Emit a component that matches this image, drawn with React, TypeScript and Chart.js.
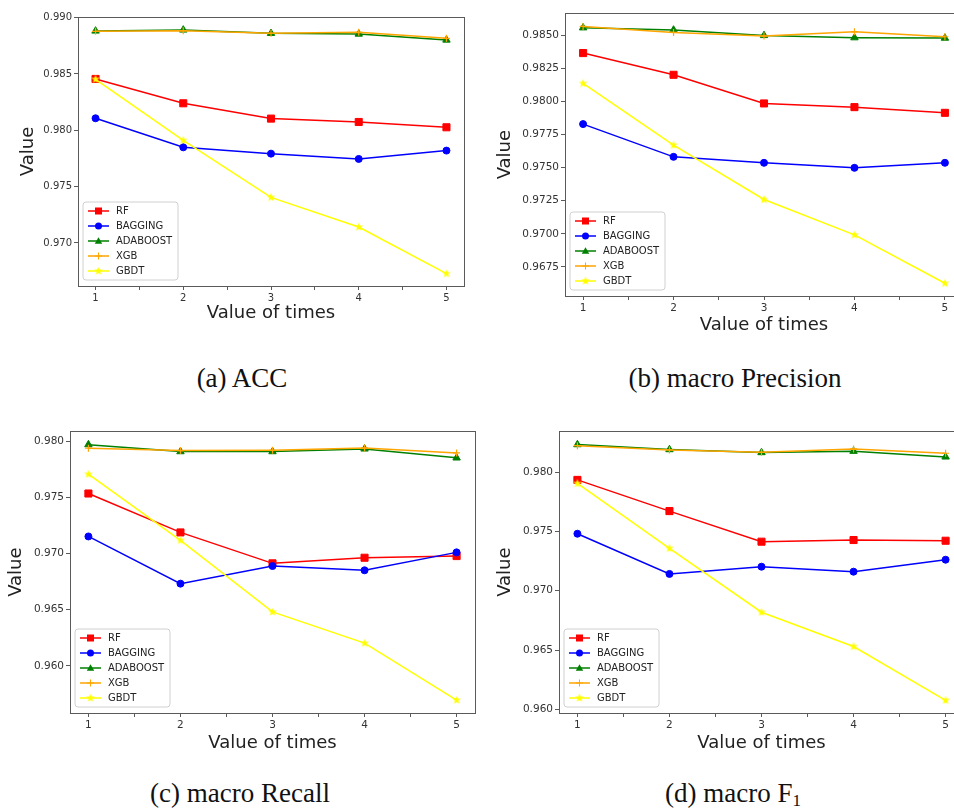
import React, { useEffect, useRef } from "react";
import { Chart, registerables } from "chart.js";

Chart.register(...registerables);

const times = [1, 2, 3, 4, 5];
const xTicks = [1, 1.5, 2, 2.5, 3, 3.5, 4, 4.5, 5];
const seriesNames = ["RF", "BAGGING", "ADABOOST", "XGB", "GBDT"];

// (a) ACC
const accRF = [0.98456, 0.9824, 0.98104, 0.98074, 0.98027];
const accBAGGING = [0.98107, 0.97849, 0.97793, 0.97746, 0.9782];
const accADABOOST = [0.98882, 0.98891, 0.98861, 0.98855, 0.98802];
const accXGB = [0.98879, 0.98885, 0.98861, 0.9887, 0.98817];
const accGBDT = [0.98453, 0.97911, 0.97405, 0.97142, 0.96728];
const accYTicks = [0.97, 0.975, 0.98, 0.985, 0.99];

// (b) macro Precision
const preRF = [0.98364, 0.982, 0.97984, 0.97956, 0.97913];
const preBAGGING = [0.97828, 0.97581, 0.97536, 0.97498, 0.97536];
const preADABOOST = [0.98555, 0.98538, 0.98497, 0.9848, 0.98477];
const preXGB = [0.98565, 0.9852, 0.98492, 0.98525, 0.98487];
const preGBDT = [0.98135, 0.97669, 0.97259, 0.96992, 0.96627];
const preYTicks = [0.9675, 0.97, 0.9725, 0.975, 0.9775, 0.98, 0.9825, 0.985];

// (c) macro Recall
const recRF = [0.97537, 0.9719, 0.96914, 0.96964, 0.96979];
const recBAGGING = [0.97154, 0.96733, 0.9689, 0.96852, 0.97012];
const recADABOOST = [0.97973, 0.97911, 0.97911, 0.97935, 0.97855];
const recXGB = [0.97941, 0.9792, 0.97923, 0.97944, 0.97899];
const recGBDT = [0.97709, 0.97119, 0.96481, 0.96202, 0.95694];
const recYTicks = [0.96, 0.965, 0.97, 0.975, 0.98];

// (d) macro F1
const f1RF = [0.97935, 0.97672, 0.97414, 0.97428, 0.97422];
const f1BAGGING = [0.97481, 0.97142, 0.97203, 0.97161, 0.97262];
const f1ADABOOST = [0.98233, 0.98191, 0.98166, 0.98177, 0.98129];
const f1XGB = [0.98224, 0.98188, 0.98168, 0.98196, 0.9816];
const f1GBDT = [0.97905, 0.97358, 0.96819, 0.9653, 0.96076];
const f1YTicks = [0.96, 0.965, 0.97, 0.975, 0.98];

const colors = ["#ff0000", "#0000ff", "#008000", "#ffa500", "#ffff00"];
const SPINE = "#5a5a5a";
const FONT = "'DejaVu Sans', sans-serif";

function makeStar(color: string) {
  const c = document.createElement("canvas");
  c.width = 10;
  c.height = 10;
  const ctx = c.getContext("2d")!;
  ctx.fillStyle = color;
  ctx.beginPath();
  for (let i = 0; i < 10; i++) {
    const r = i % 2 === 0 ? 4.6 : 1.9;
    const a = -Math.PI / 2 + (i * Math.PI) / 5;
    const x = 5 + r * Math.cos(a);
    const y = 5 + r * Math.sin(a);
    if (i === 0) ctx.moveTo(x, y);
    else ctx.lineTo(x, y);
  }
  ctx.closePath();
  ctx.fill();
  return c;
}

function drawMarker(ctx: CanvasRenderingContext2D, kind: number, x: number, y: number, color: string, star: HTMLCanvasElement) {
  ctx.save();
  ctx.fillStyle = color;
  ctx.strokeStyle = color;
  ctx.lineWidth = 1;
  ctx.beginPath();
  if (kind === 0) {
    ctx.fillRect(x - 3.5, y - 3.5, 7, 7);
  } else if (kind === 1) {
    ctx.arc(x, y, 3.5, 0, Math.PI * 2);
    ctx.fill();
  } else if (kind === 2) {
    const r = 4.3;
    for (let i = 0; i < 3; i++) {
      const a = -Math.PI / 2 + (i * 2 * Math.PI) / 3;
      const px = x + r * Math.cos(a);
      const py = y + 0.6 + r * Math.sin(a);
      if (i === 0) ctx.moveTo(px, py);
      else ctx.lineTo(px, py);
    }
    ctx.closePath();
    ctx.fill();
  } else if (kind === 3) {
    ctx.moveTo(x - 3.5, y);
    ctx.lineTo(x + 3.5, y);
    ctx.moveTo(x, y - 3.5);
    ctx.lineTo(x, y + 3.5);
    ctx.stroke();
  } else {
    ctx.drawImage(star, x - 5, y - 5);
  }
  ctx.restore();
}

type PanelProps = {
  series: number[][];
  yTicks: number[];
  yMin: number;
  yMax: number;
  decimals: number;
  left: number;
  top: number;
  width: number;
  height: number;
  yW: number;
  xH: number;
  tickSize: number;
};

function Panel(p: PanelProps) {
  const ref = useRef<HTMLCanvasElement>(null);
  useEffect(() => {
    const star = makeStar(colors[4]);
    const pointStyles: any[] = ["rect", "circle", "triangle", "cross", star];
    const radii = [5, 3.5, 4.3, 3.5, 5];
    const frameLegend = {
      id: "frameLegend",
      afterDraw(chart: any) {
        const ctx = chart.ctx as CanvasRenderingContext2D;
        const a = chart.chartArea;
        ctx.save();
        ctx.strokeStyle = SPINE;
        ctx.lineWidth = 1;
        ctx.strokeRect(Math.round(a.left) + 0.5, Math.round(a.top) + 0.5, Math.round(a.right - a.left), Math.round(a.bottom - a.top));
        // legend
        const bx = a.left + 5;
        const bh = 78;
        const bw = 95;
        const by = a.bottom - 6 - bh;
        ctx.fillStyle = "rgba(255,255,255,0.85)";
        ctx.strokeStyle = "#d0d0d0";
        ctx.beginPath();
        const r = 3;
        ctx.moveTo(bx + r, by);
        ctx.lineTo(bx + bw - r, by);
        ctx.arcTo(bx + bw, by, bx + bw, by + r, r);
        ctx.lineTo(bx + bw, by + bh - r);
        ctx.arcTo(bx + bw, by + bh, bx + bw - r, by + bh, r);
        ctx.lineTo(bx + r, by + bh);
        ctx.arcTo(bx, by + bh, bx, by + bh - r, r);
        ctx.lineTo(bx, by + r);
        ctx.arcTo(bx, by, bx + r, by, r);
        ctx.closePath();
        ctx.fill();
        ctx.stroke();
        ctx.font = `10px ${FONT}`;
        ctx.textBaseline = "middle";
        for (let i = 0; i < seriesNames.length; i++) {
          const cy = by + 9 + i * 15;
          ctx.strokeStyle = colors[i];
          ctx.lineWidth = 1.5;
          ctx.beginPath();
          ctx.moveTo(bx + 5, cy);
          ctx.lineTo(bx + 26, cy);
          ctx.stroke();
          drawMarker(ctx, i, bx + 15.5, cy, colors[i], star);
          ctx.fillStyle = "#222";
          ctx.fillText(seriesNames[i], bx + 33, cy + 0.5);
        }
        ctx.restore();
      },
    };
    const chart = new Chart(ref.current!, {
      type: "line",
      data: {
        datasets: p.series.map((vals, i) => ({
          label: seriesNames[i],
          data: times.map((t, j) => ({ x: t, y: vals[j] })),
          borderColor: colors[i],
          backgroundColor: colors[i],
          borderWidth: 1.5,
          pointStyle: pointStyles[i],
          pointRadius: radii[i],
          pointBorderWidth: i === 3 ? 1.2 : 1,
          pointBorderColor: colors[i],
          pointBackgroundColor: colors[i],
          tension: 0,
          fill: false,
          order: 4 - i,
        })),
      },
      options: {
        animation: false,
        responsive: false,
        devicePixelRatio: 1,
        layout: { padding: { top: 8, right: 8, left: 0, bottom: 0 } },
        plugins: { legend: { display: false }, tooltip: { enabled: false } },
        scales: {
          x: {
            type: "linear",
            min: 0.8,
            max: 5.2,
            afterBuildTicks: (s: any) => {
              s.ticks = xTicks.map((v) => ({ value: v }));
            },
            afterFit: (s: any) => {
              s.height = p.xH;
            },
            ticks: {
              autoSkip: false,
              maxRotation: 0,
              padding: 2,
              color: "#333",
              font: { family: FONT, size: p.tickSize },
              callback: (v: any) => (Number.isInteger(v) ? String(v) : ""),
            },
            grid: { drawOnChartArea: false, drawTicks: true, tickLength: 4, color: SPINE },
            border: { display: true, color: SPINE, width: 1 },
            title: { display: true, text: "Value of times", color: "#222", padding: 0, font: { family: FONT, size: 18 } },
          },
          y: {
            type: "linear",
            min: p.yMin,
            max: p.yMax,
            afterBuildTicks: (s: any) => {
              s.ticks = p.yTicks.map((v) => ({ value: v }));
            },
            afterFit: (s: any) => {
              s.width = p.yW;
            },
            ticks: {
              autoSkip: false,
              padding: 2,
              color: "#333",
              font: { family: FONT, size: p.tickSize },
              callback: (v: any) => Number(v).toFixed(p.decimals),
            },
            grid: { drawOnChartArea: false, drawTicks: true, tickLength: 4, color: SPINE },
            border: { display: true, color: SPINE, width: 1 },
            title: { display: true, text: "Value", color: "#222", padding: 0, font: { family: FONT, size: 18 } },
          },
        },
      },
      plugins: [frameLegend],
    } as any);
    return () => chart.destroy();
  }, []);
  return (
    <canvas
      ref={ref}
      width={p.width}
      height={p.height}
      style={{ position: "absolute", left: p.left, top: p.top, width: p.width, height: p.height }}
    />
  );
}

const captionStyle: React.CSSProperties = {
  position: "absolute",
  fontFamily: "'Liberation Serif', 'Times New Roman', serif",
  fontSize: 27,
  lineHeight: 1,
  color: "#111",
  whiteSpace: "nowrap",
  transform: "translateX(-50%)",
};

export default function App() {
  return (
    <div style={{ position: "absolute", left: 0, top: 0, width: 954, height: 811, overflow: "hidden", background: "#fff" }}>
      <Panel
        series={[accRF, accBAGGING, accADABOOST, accXGB, accGBDT]}
        yTicks={accYTicks}
        yMin={0.96618}
        yMax={0.99006}
        decimals={3}
        left={18}
        top={9}
        width={454}
        height={315}
        yW={60}
        xH={38}
        tickSize={10}
      />
      <Panel
        series={[preRF, preBAGGING, preADABOOST, preXGB, preGBDT]}
        yTicks={preYTicks}
        yMin={0.96531}
        yMax={0.98664}
        decimals={4}
        left={495}
        top={5}
        width={476}
        height={331}
        yW={70}
        xH={40}
        tickSize={10.5}
      />
      <Panel
        series={[recRF, recBAGGING, recADABOOST, recXGB, recGBDT]}
        yTicks={recYTicks}
        yMin={0.95579}
        yMax={0.98092}
        decimals={3}
        left={6}
        top={423}
        width={477}
        height={331}
        yW={64}
        xH={41}
        tickSize={10.5}
      />
      <Panel
        series={[f1RF, f1BAGGING, f1ADABOOST, f1XGB, f1GBDT]}
        yTicks={f1YTicks}
        yMin={0.95969}
        yMax={0.98345}
        decimals={3}
        left={495}
        top={423}
        width={477}
        height={331}
        yW={64}
        xH={41}
        tickSize={10.5}
      />
      <div style={{ ...captionStyle, left: 242, top: 365 }}>(a) ACC</div>
      <div style={{ ...captionStyle, left: 735, top: 365 }}>(b) macro Precision</div>
      <div style={{ ...captionStyle, left: 240, top: 780 }}>(c) macro Recall</div>
      <div style={{ ...captionStyle, left: 733, top: 780 }}>
        (d) macro F<sub style={{ fontSize: 17, verticalAlign: "-4px", lineHeight: 0 }}>1</sub>
      </div>
    </div>
  );
}
